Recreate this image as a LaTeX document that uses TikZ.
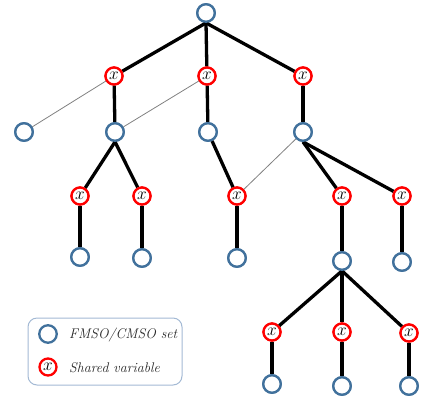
\documentclass[tikz,border=0pt]{standalone}
\definecolor{setblue}{HTML}{41719C}
\definecolor{varred}{HTML}{FF0000}
\definecolor{legborder}{HTML}{A3B9D4}
\begin{document}
\begin{tikzpicture}[x=1pt,y=-1pt,
  setnode/.style={circle,draw=setblue,line width=2.3pt,fill=white,minimum size=17.5pt,inner sep=0pt},
  varnode/.style={circle,draw=varred,line width=2.3pt,fill=white,minimum size=17pt,inner sep=0pt,
     font=\fontsize{16}{16}\selectfont},
  thick edge/.style={line width=3.3pt,black},
  thin edge/.style={line width=0.8pt,gray},
  legtext/.style={font=\fontsize{14}{14}\selectfont\itshape,anchor=west,inner sep=0pt,text=black!85}]
\useasboundingbox (0,0) rectangle (422,399);
% nodes
\node[setnode] (root) at (206,13) {};
\node[varnode] (a1) at (114,76) {};
\node[varnode] (a2) at (207,76) {};
\node[varnode] (a3) at (303,76) {};
\node[setnode] (b0) at (24,132) {};
\node[setnode] (b1) at (115,132) {};
\node[setnode] (b2) at (208,132) {};
\node[setnode] (b3) at (303,132) {};
\node[varnode] (c1) at (80,196) {};
\node[varnode] (c2) at (142,196) {};
\node[varnode] (c3) at (237,196) {};
\node[varnode] (c4) at (342,196) {};
\node[varnode] (c5) at (402,196) {};
\node[setnode] (d1) at (80,257) {};
\node[setnode] (d2) at (142,258) {};
\node[setnode] (d3) at (237,258) {};
\node[setnode] (d4) at (342,261) {};
\node[setnode] (d5) at (402,262) {};
\node[varnode] (e1) at (272,332) {};
\node[varnode] (e2) at (342,332) {};
\node[varnode] (e3) at (409,333) {};
\node[setnode] (f1) at (272,384) {};
\node[setnode] (f2) at (342,386) {};
\node[setnode] (f3) at (409,386) {};
% thin edges
\draw[thin edge] (a1) -- (b0);
\draw[thin edge] (a2) -- (b1);
\draw[thin edge] (b3) -- (c3);
% thick edges
\draw[thick edge] (root.south) -- (a1);
\draw[thick edge] (root.south) -- (a2);
\draw[thick edge] (root.south) -- (a3);
\draw[thick edge] (a1) -- (b1);
\draw[thick edge] (a2) -- (b2);
\draw[thick edge] (a3) -- (b3);
\draw[thick edge] (b1.south) -- (c1);
\draw[thick edge] (b1.south) -- (c2);
\draw[thick edge] (b2) -- (c3);
\draw[thick edge] (b3.south) -- (c4);
\draw[thick edge] (b3.south) -- (c5);
\draw[thick edge] (c1) -- (d1);
\draw[thick edge] (c2) -- (d2);
\draw[thick edge] (c3) -- (d3);
\draw[thick edge] (c4) -- (d4);
\draw[thick edge] (c5) -- (d5);
\draw[thick edge] (d4.south) -- (e1);
\draw[thick edge] (d4.south) -- (e2);
\draw[thick edge] (d4.south) -- (e3);
\draw[thick edge] (e1) -- (f1);
\draw[thick edge] (e2) -- (f2);
\draw[thick edge] (e3) -- (f3);
% redraw nodes on top of the edges
\foreach \n in {root,b0,b1,b2,b3,d1,d2,d3,d4,d5,f1,f2,f3}{
  \path (\n.center) node[setnode] {};}
\foreach \n in {a1,a2,a3,c1,c2,c3,c4,c5,e1,e2,e3}{
  \path (\n.center) node[varnode] {\raisebox{1pt}{$x$}};}
% legend
\node[draw=legborder,line width=1pt,rounded corners=9pt,minimum width=154pt,minimum height=67pt,inner sep=0pt] (legend) at (105,351.5) {};
\node[setnode] (ls) at (48,334) {};
\node[varnode] (lv) at (48,367) {\raisebox{1pt}{$x$}};
\node[legtext] (lst) at (69,335) {FMSO/CMSO set};
\node[legtext] (lvt) at (69,368) {Shared variable};
\end{tikzpicture}
\end{document}
